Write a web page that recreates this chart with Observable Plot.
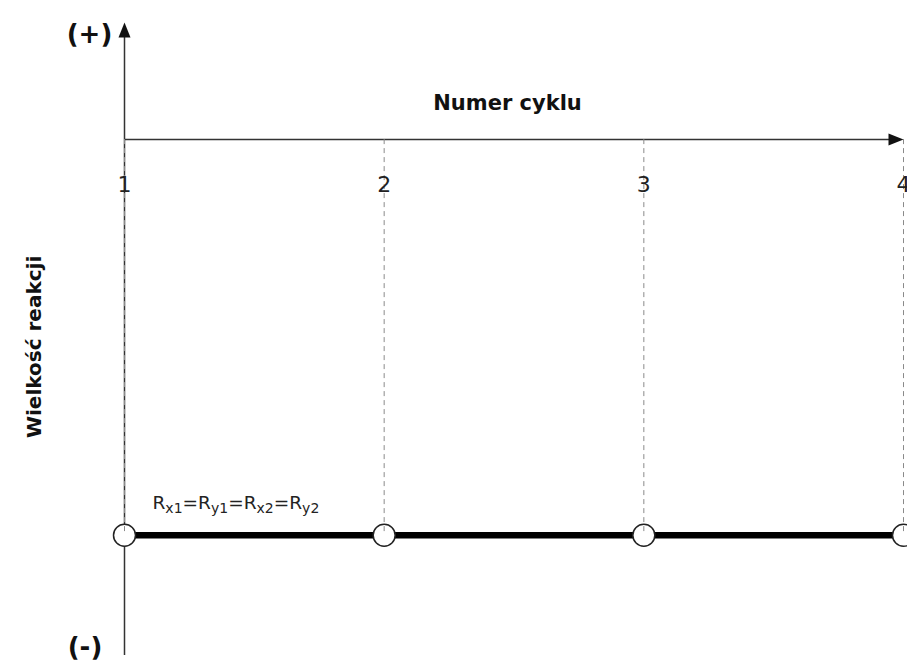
<!DOCTYPE html>
<html>
<head>
<meta charset="utf-8">
<script src="https://cdn.jsdelivr.net/npm/d3@7"></script>
<script src="https://cdn.jsdelivr.net/npm/@observablehq/plot@0.6"></script>
<style>
  html, body { margin: 0; padding: 0; background: #fff; }
  #chart svg { display: block; }
</style>
</head>
<body>
<div id="chart"></div>
<script>
// ---- data ----
const cycles = [1, 2, 3, 4];
const cycleLabels = ["1", "2", "3", "4"];
const reactions = [-0.62, -0.62, -0.62, -0.62];   // Rx1 = Ry1 = Rx2 = Ry2 (constant, negative)
const cycleAxisLevel = 0.63;                       // level where the "Numer cyklu" axis crosses the reaction axis
const reactionLabelParts = [["R", "x1"], ["R", "y1"], ["R", "x2"], ["R", "y2"]];
const xTitle = "Numer cyklu";
const yTitle = "Wielkość reakcji";
const plusLabel = "(+)";
const minusLabel = "(-)";

const points = cycles.map((c, i) => ({cycle: c, label: cycleLabels[i], value: reactions[i]}));

const FONT = "'DejaVu Sans', sans-serif";
const SVGNS = "http://www.w3.org/2000/svg";

// arrowhead symbol: tip at the point, body extending "down" (rotated as needed)
const arrowHead = {
  draw(ctx) {
    ctx.moveTo(0, 0);
    ctx.lineTo(6, 15);
    ctx.lineTo(-6, 15);
    ctx.closePath();
  }
};

// turn the reaction label into R with subscripts, as real SVG text
const subscriptRender = (index, scales, values, dimensions, context, next) => {
  const g = next(index, scales, values, dimensions, context);
  g.querySelectorAll("text").forEach(t => {
    t.textContent = "";
    reactionLabelParts.forEach((p, i) => {
      if (i > 0) {
        const eq = document.createElementNS(SVGNS, "tspan");
        eq.setAttribute("dy", "-4");
        eq.textContent = "=";
        t.appendChild(eq);
      }
      const base = document.createElementNS(SVGNS, "tspan");
      base.textContent = p[0];
      t.appendChild(base);
      const sub = document.createElementNS(SVGNS, "tspan");
      sub.textContent = p[1];
      sub.setAttribute("font-size", "14px");
      sub.setAttribute("dy", "4");
      t.appendChild(sub);
    });
  });
  return g;
};

const chart = Plot.plot({
  width: 907,
  height: 668,
  marginTop: 0, marginRight: 0, marginBottom: 0, marginLeft: 0,
  x: {domain: [1, 4], range: [124, 903], axis: null},
  y: {domain: [-1, 1], range: [655, 22], axis: null},
  style: {fontFamily: FONT, background: "#fff"},
  marks: [
    // reaction axis (vertical) with arrow
    Plot.ruleX([cycles[0]], {y1: -1, y2: 0.97, stroke: "#333", strokeWidth: 1.5}),
    Plot.dot([1], {x: cycles[0], y: d => d, symbol: arrowHead, fill: "#111", stroke: "none"}),
    // cycle axis (horizontal) with arrow
    Plot.ruleY([cycleAxisLevel], {x1: cycles[0], x2: 3.98, stroke: "#333", strokeWidth: 1.5}),
    Plot.dot([cycleAxisLevel], {x: cycles[cycles.length - 1], y: d => d, symbol: arrowHead, rotate: 90, fill: "#111", stroke: "none"}),
    // reaction line
    Plot.line(points, {x: "cycle", y: "value", stroke: "#000", strokeWidth: 6.5}),
    Plot.dot(points, {x: "cycle", y: "value", r: 11, fill: "#fff", stroke: "#222", strokeWidth: 1.5}),
    // dashed guides
    Plot.ruleX(points, {x: "cycle", y1: cycleAxisLevel, y2: "value", stroke: "#8a8a8a", strokeWidth: 1, strokeDasharray: "5,4"}),
    // tick labels
    Plot.text(points, {x: "cycle", y: cycleAxisLevel, text: "label", dy: 45, fontSize: 22, fill: "#222"}),
    // reaction label
    Plot.text([reactions[0]], {x: cycles[0], y: d => d, text: d => "R", dx: 28, dy: -32, textAnchor: "start", fontSize: 18.5, fill: "#222", render: subscriptRender}),
    // titles
    Plot.text([xTitle], {x: 2.475, y: cycleAxisLevel, text: d => d, dy: -36, fontSize: 21, fontWeight: "bold", fill: "#111"}),
    Plot.text([yTitle], {x: cycles[0], y: -0.025, text: d => d, dx: -90, rotate: -90, fontSize: 20, fontWeight: "bold", fill: "#111"}),
    Plot.text([plusLabel], {x: cycles[0], y: 1, text: d => d, dx: -35, dy: 12.5, fontSize: 26, fontWeight: "bold", fill: "#111"}),
    Plot.text([minusLabel], {x: cycles[0], y: -1, text: d => d, dx: -39.5, dy: -8, fontSize: 26, fontWeight: "bold", fill: "#111"})
  ]
});

document.getElementById("chart").appendChild(chart);
</script>
</body>
</html>
